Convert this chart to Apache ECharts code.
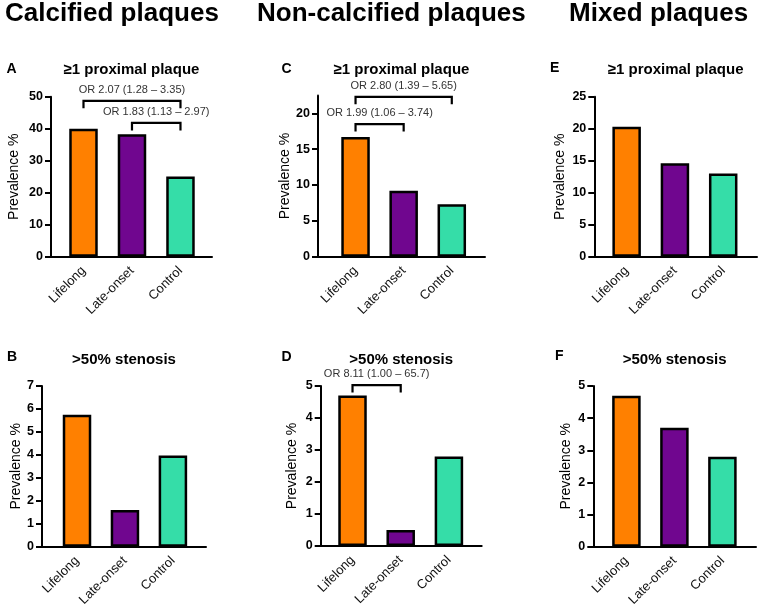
<!DOCTYPE html>
<html><head><meta charset="utf-8">
<script src="https://cdn.jsdelivr.net/npm/echarts@6/dist/echarts.min.js"></script>
<style>html,body{margin:0;padding:0;background:#fff}#c{width:760px;height:613px}</style>
</head><body><div id="c"></div>
<script>
// ---- data ----
const categories = ['Lifelong', 'Late-onset', 'Control'];
const headers = ['Calcified plaques', 'Non-calcified plaques', 'Mixed plaques'];
const panelTitles = ['≥1 proximal plaque', '>50% stenosis'];
const yName = 'Prevalence %';

const valuesA = [40.0, 38.3, 25.1];
const valuesB = [5.75, 1.6, 3.97];
const valuesC = [16.7, 9.2, 7.3];
const valuesD = [4.7, 0.5, 2.8];
const valuesE = [20.3, 14.6, 13.0];
const valuesF = [4.7, 3.7, 2.8];

const ticksA = [0, 10, 20, 30, 40, 50];
const ticksB = [0, 1, 2, 3, 4, 5, 6, 7];
const ticksC = [0, 5, 10, 15, 20];
const ticksD = [0, 1, 2, 3, 4, 5];
const ticksE = [0, 5, 10, 15, 20, 25];
const ticksF = [0, 1, 2, 3, 4, 5];

// brackets: [fromCategory, toCategory, level]
const bracketsA = [[0, 2, 48.7], [1, 2, 41.8]];
const bracketLabelsA = ['OR 2.07 (1.28 – 3.35)', 'OR 1.83 (1.13 – 2.97)'];
const bracketsC = [[0, 2, 22.3], [0, 1, 18.5]];
const bracketLabelsC = ['OR 2.80 (1.39 – 5.65)', 'OR 1.99 (1.06 – 3.74)'];
const bracketsD = [[0, 1, 5.03]];
const bracketLabelsD = ['OR 8.11 (1.00 – 65.7)'];

// ---- styles / layout ----
const barColors = ['#FF8000', '#70068F', '#35DDA8'];
const FONT = '"Liberation Sans", Arial, Helvetica, sans-serif';

const panels = [
  {letter: 'A', values: valuesA, ticks: ticksA, yMax: 50, title: panelTitles[0], brackets: bracketsA, blabels: bracketLabelsA,
   grid: {left: 51, top: 96.7, width: 161, height: 160}, xMin: -0.67, xMax: 2.65, nameGap: 30, letterXY: [6.5, 69], titleY: 70},
  {letter: 'B', values: valuesB, ticks: ticksB, yMax: 7, title: panelTitles[1], brackets: [], blabels: [],
   grid: {left: 42, top: 386, width: 164, height: 160.7}, xMin: -0.73, xMax: 2.69, nameGap: 19, letterXY: [7, 357], titleY: 359.5},
  {letter: 'C', values: valuesC, ticks: ticksC, yMax: 22.5, title: panelTitles[0], brackets: bracketsC, blabels: bracketLabelsC,
   grid: {left: 318, top: 95.4, width: 167, height: 161.3}, xMin: -0.78, xMax: 2.69, nameGap: 23, letterXY: [281.5, 69], titleY: 70},
  {letter: 'D', values: valuesD, ticks: ticksD, yMax: 5, title: panelTitles[1], brackets: bracketsD, blabels: bracketLabelsD,
   grid: {left: 320.7, top: 386, width: 161, height: 160}, xMin: -0.66, xMax: 2.68, nameGap: 22, letterXY: [281.5, 357], titleY: 359.5},
  {letter: 'E', values: valuesE, ticks: ticksE, yMax: 25, title: panelTitles[0], brackets: [], blabels: [],
   grid: {left: 594.3, top: 96.7, width: 162.7, height: 160}, xMin: -0.67, xMax: 2.7, nameGap: 27, letterXY: [550, 68], titleY: 70},
  {letter: 'F', values: valuesF, ticks: ticksF, yMax: 5, title: panelTitles[1], brackets: [], blabels: [],
   grid: {left: 593.3, top: 386, width: 162.7, height: 160.7}, xMin: -0.69, xMax: 2.7, nameGap: 20, letterXY: [555, 356], titleY: 359.5}
];
const headerX = [5, 257, 569];

const grids = [], xAxes = [], yAxes = [], series = [], graphics = [];

headers.forEach((h, i) => {
  graphics.push({type: 'text', x: headerX[i], y: 14, style: {text: h, font: 'bold 26px ' + FONT, fill: '#000', textAlign: 'left', textVerticalAlign: 'middle'}});
});

panels.forEach((p, i) => {
  grids.push(Object.assign({containLabel: false}, p.grid));
  xAxes.push({
    type: 'value', gridIndex: i, min: p.xMin, max: p.xMax,
    axisLine: {show: true, onZero: false, lineStyle: {color: '#000', width: 2}},
    axisTick: {show: false}, splitLine: {show: false},
    axisLabel: {customValues: [0, 1, 2], formatter: v => categories[Math.round(v)] || '', rotate: 45, margin: 12,
      color: '#111', fontSize: 13, fontFamily: FONT}
  });
  yAxes.push({
    type: 'value', gridIndex: i, min: 0, max: p.yMax,
    name: yName, nameLocation: 'middle', nameRotate: 90, nameGap: p.nameGap,
    nameTextStyle: {color: '#000', fontSize: 14, fontFamily: FONT},
    axisLine: {show: true, onZero: false, lineStyle: {color: '#000', width: 2}},
    axisTick: {show: true, length: 6, customValues: p.ticks, lineStyle: {color: '#000', width: 2}},
    splitLine: {show: false},
    axisLabel: {customValues: p.ticks, margin: 8, color: '#000', fontWeight: 'bold', fontSize: 12.5, fontFamily: FONT}
  });
  series.push({
    type: 'bar', xAxisIndex: i, yAxisIndex: i, barWidth: 28.5, silent: true,
    itemStyle: {borderColor: '#000', borderWidth: 2.5},
    data: p.values.map((v, k) => ({value: [k, v], itemStyle: {color: barColors[k]}}))
  });
  if (p.brackets.length) {
    const labels = p.blabels;
    series.push({
      type: 'custom', xAxisIndex: i, yAxisIndex: i, clip: false, silent: true,
      encode: {x: [0, 1], y: 2},
      data: p.brackets,
      renderItem: (params, api) => {
        const a = api.coord([api.value(0), api.value(2)]);
        const b = api.coord([api.value(1), api.value(2)]);
        const drop = 7.5;
        return {type: 'group', children: [
          {type: 'polyline', shape: {points: [[a[0], a[1] + drop], [a[0], a[1]], [b[0], b[1]], [b[0], b[1] + drop]]},
           style: {stroke: '#000', lineWidth: 2.2, fill: null}},
          {type: 'text', x: (a[0] + b[0]) / 2, y: a[1] - 11,
           style: {text: labels[params.dataIndex], font: '11px ' + FONT, fill: '#333', textAlign: 'center', textVerticalAlign: 'middle'}}
        ]};
      }
    });
  }
  graphics.push({type: 'text', x: p.letterXY[0], y: p.letterXY[1], style: {text: p.letter, font: 'bold 14px ' + FONT, fill: '#000', textAlign: 'left', textVerticalAlign: 'middle'}});
  graphics.push({type: 'text', x: p.grid.left + p.grid.width / 2, y: p.titleY, style: {text: p.title, font: 'bold 15px ' + FONT, fill: '#000', textAlign: 'center', textVerticalAlign: 'middle'}});
});

const chart = echarts.init(document.getElementById('c'), null, {renderer: 'canvas'});
chart.setOption({
  animation: false,
  backgroundColor: '#fff',
  grid: grids, xAxis: xAxes, yAxis: yAxes, series: series, graphic: graphics
});
</script></body></html>
